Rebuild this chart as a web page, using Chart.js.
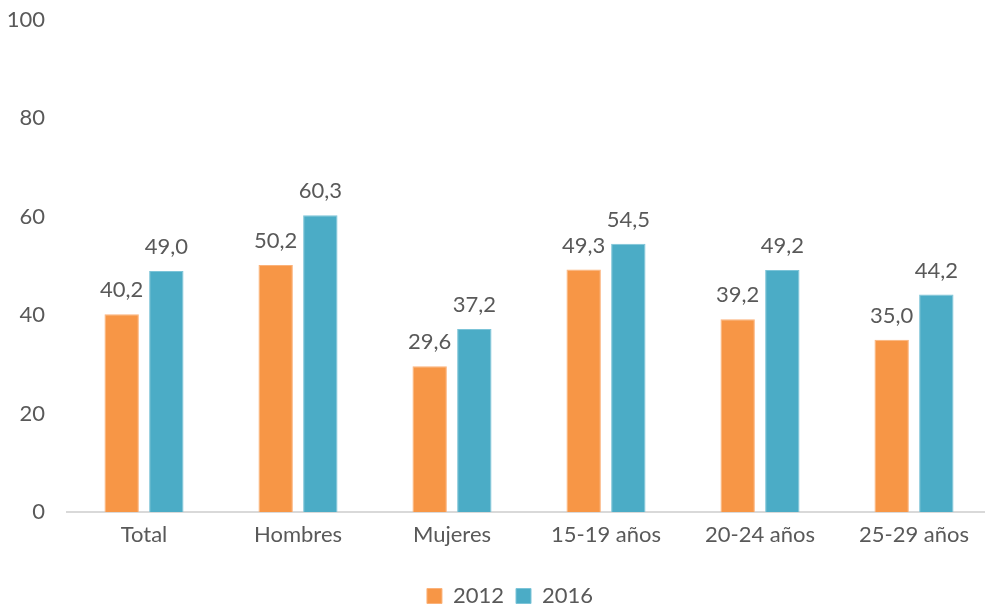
<!DOCTYPE html>
<html>
<head>
<meta charset="utf-8">
<script src="https://cdn.jsdelivr.net/npm/chart.js@4"></script>
<style>
html,body{margin:0;padding:0;background:#fff;overflow:hidden;}
#wrap{width:991px;height:607px;position:relative;}
</style>
</head>
<body>
<div id="wrap"><canvas id="c"></canvas></div>
<script>
const categories = ["Total", "Hombres", "Mujeres", "15-19 años", "20-24 años", "25-29 años"];
const series2012 = [40.2, 50.2, 29.6, 49.3, 39.2, 35.0];
const series2016 = [49.0, 60.3, 37.2, 54.5, 49.2, 44.2];
const yTicks = [0, 20, 40, 60, 80, 100];

const FONT = "Lato, 'Open Sans', sans-serif";
const GRAY = "#595959";
const FS = 22;

const labelPlugin = {
  id: 'barLabels',
  afterLayout(chart) {
    if (chart.legend) { chart.legend.left += 22; }
  },
  afterDatasetsDraw(chart) {
    const ctx = chart.ctx;
    ctx.save();
    ctx.font = FS + "px " + FONT;
    ctx.fillStyle = GRAY;
    ctx.textAlign = "center";
    ctx.textBaseline = "middle";
    chart.data.datasets.forEach((ds, i) => {
      chart.getDatasetMeta(i).data.forEach((bar, j) => {
        const txt = ds.data[j].toFixed(1).replace('.', ',');
        ctx.fillText(txt, bar.x, bar.y - 24);
      });
    });
    ctx.restore();
  }
};

new Chart(document.getElementById('c'), {
  type: 'bar',
  data: {
    labels: categories,
    datasets: [
      { label: '2012', data: series2012, backgroundColor: '#F79646', borderColor: '#FBB27A', borderWidth: 1 },
      { label: '2016', data: series2016, backgroundColor: '#4BACC6', borderColor: '#7CC4D8', borderWidth: 1 }
    ]
  },
  options: {
    responsive: true,
    maintainAspectRatio: false,
    animation: false,
    datasets: { bar: { categoryPercentage: 0.58, barPercentage: 0.77 } },
    layout: { padding: { left: 7, right: 0, top: 20, bottom: -10 } },
    plugins: {
      legend: {
        position: 'bottom',
        labels: {
          color: GRAY,
          font: { family: FONT, size: FS },
          boxWidth: 15, boxHeight: 15, padding: 12
        }
      },
      tooltip: { enabled: false }
    },
    scales: {
      x: {
        grid: { display: false, drawTicks: false },
        border: { display: true, color: '#D9D9D9', width: 2 },
        ticks: { color: GRAY, font: { family: FONT, size: FS }, padding: 10 },
        afterFit(scale) { scale.height = 61; }
      },
      y: {
        min: 0, max: 100,
        afterBuildTicks(scale) { scale.ticks = yTicks.map(v => ({ value: v })); },
        grid: { display: false, drawTicks: false },
        border: { display: false },
        ticks: { color: GRAY, font: { family: FONT, size: FS }, padding: 22 },
        afterFit(scale) { scale.width = 60; scale.paddingTop = 0; scale.paddingBottom = 0; }
      }
    }
  },
  plugins: [labelPlugin]
});
</script>
</body>
</html>
